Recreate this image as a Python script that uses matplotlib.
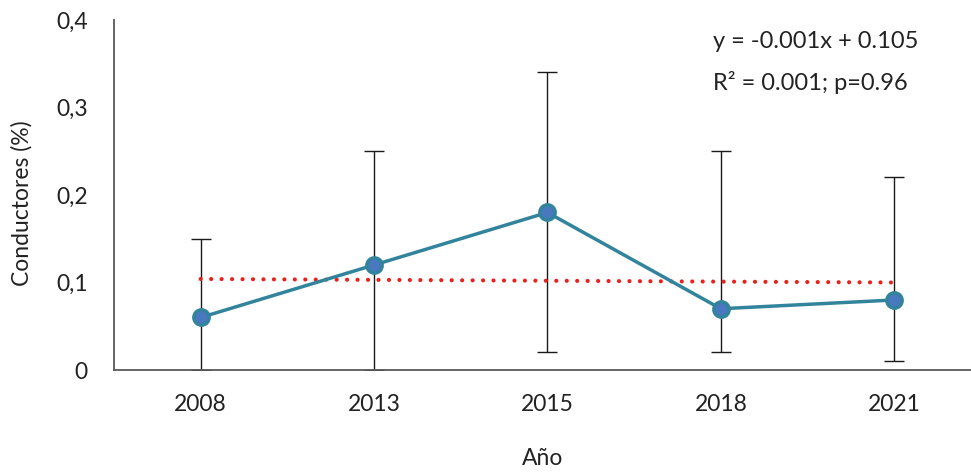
import matplotlib
matplotlib.use("Agg")
import matplotlib.pyplot as plt
from matplotlib.ticker import FuncFormatter
import numpy as np

years = ["2008", "2013", "2015", "2018", "2021"]
values = [0.06, 0.12, 0.18, 0.07, 0.08]
upper = [0.15, 0.25, 0.34, 0.25, 0.22]
lower = [0.0, 0.0, 0.02, 0.02, 0.01]
slope = -0.001
intercept = 0.105
eq_text = "y = -0.001x + 0.105"
r2_text = "R² = 0.001; p=0.96"

plt.rcParams['font.family'] = ['Lato', 'DejaVu Sans']

fig = plt.figure(figsize=(9.71, 4.74), dpi=100)
ax = fig.add_axes([0.1174, 0.2194, 0.8826, 0.7386])

x = np.arange(1, len(years) + 1)
vals = np.array(values)
yerr = np.vstack([vals - np.array(lower), np.array(upper) - vals])

ax.errorbar(x, vals, yerr=yerr, fmt='none', ecolor='#1a1a1a', elinewidth=1.0,
            capsize=7, capthick=1.0, zorder=2)
ax.plot(x, slope * x + intercept, linestyle=(0, (0.01, 2.5)), color='#E8211C',
        linewidth=3.0, dash_capstyle='round', zorder=3)
ax.plot(x, vals, color='#31849B', linewidth=2.5, marker='o', markersize=11,
        markerfacecolor='#4A78C0', markeredgecolor='#31849B', markeredgewidth=2.5,
        zorder=4)

ax.set_xlim(0.5, 5.443)
ax.set_ylim(0, 0.4)
ax.set_xticks(x)
ax.set_xticklabels(years)
ax.set_yticks([0, 0.1, 0.2, 0.3, 0.4])
ax.yaxis.set_major_formatter(FuncFormatter(lambda v, p: "0" if v == 0 else f"{v:.1f}".replace('.', ',')))
ax.tick_params(axis='x', length=0, labelsize=16.5, colors='#222222', pad=17)
ax.tick_params(axis='y', length=0, labelsize=16.5, colors='#222222', pad=19)
for s in ['top', 'right']:
    ax.spines[s].set_visible(False)
for s in ['left', 'bottom']:
    ax.spines[s].set_color('#595959')
    ax.spines[s].set_linewidth(1.3)

ax.set_xlabel("Año", fontsize=16.5, color='#222222', labelpad=24)
fig.text(22 / 971, 1 - 203 / 474, "Conductores (%)", fontsize=16.5, color='#222222',
         rotation=90, va='center', ha='center')

fig.text(713 / 971, 1 - 42 / 474, eq_text, fontsize=17, color='#222222', va='center', ha='left')
fig.text(713 / 971, 1 - 82 / 474, r2_text, fontsize=17, color='#222222', va='center', ha='left')

fig.savefig("out.png", dpi=100)
